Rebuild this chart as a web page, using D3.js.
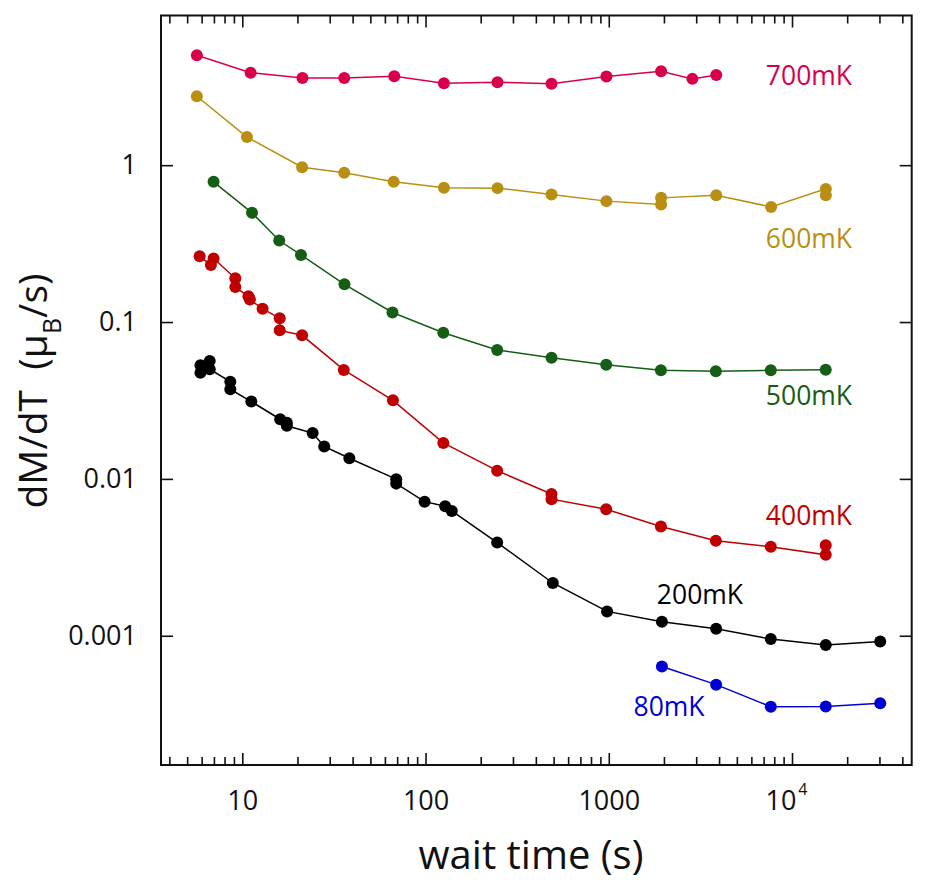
<!DOCTYPE html>
<html><head><meta charset="utf-8">
<script src="https://cdn.jsdelivr.net/npm/d3@7"></script>
<style>
body{margin:0;background:#fff}
svg text{font-family:"Open Sans",sans-serif}
</style>
</head><body>
<svg id="chart" width="939" height="887"></svg>
<script>
// ---- data (wait time in s, dM/dT in mu_B/s) ----
const x700 = [5.65, 11.1, 21.3, 36, 67.5, 126, 247, 487, 971, 1930, 2860, 3860];
const y700 = [5.02, 3.89, 3.60, 3.60, 3.69, 3.33, 3.38, 3.30, 3.67, 3.97, 3.55, 3.76];

const x600 = [5.65, 10.6, 21.2, 36, 67, 126, 247, 487, 971, 1930, 1930, 3860, 7690, 15300, 15300];
const y600 = [2.75, 1.51, 0.971, 0.896, 0.783, 0.717, 0.714, 0.651, 0.590, 0.562, 0.619, 0.644, 0.542, 0.706, 0.644];

const x500 = [6.97, 11.3, 15.9, 20.9, 36.1, 66, 125, 246, 487, 968, 1925, 3840, 7660, 15280];
const y500 = [0.783, 0.497, 0.331, 0.268, 0.174, 0.115, 0.0855, 0.0663, 0.0592, 0.0535, 0.0492, 0.0485, 0.0492, 0.0497];

const x400 = [5.85, 6.74, 6.97, 9.16, 9.16, 10.8, 11.0, 12.9, 16.0, 16.0, 21.2, 35.8, 66.4, 125, 246, 487, 487, 968, 1925, 3840, 7660, 15280, 15280];
const y400 = [0.263, 0.231, 0.254, 0.190, 0.167, 0.146, 0.139, 0.1216, 0.1056, 0.0885, 0.0823, 0.0495, 0.0317, 0.01696, 0.01129, 0.0080, 0.00743, 0.00641, 0.00497, 0.00403, 0.00369, 0.00328, 0.00378];

const x200 = [5.91, 5.91, 6.64, 6.64, 8.60, 8.60, 11.2, 16.1, 17.5, 17.5, 24.2, 28.0, 38.4, 69.2, 69.2, 98.8, 128, 139, 246, 495, 979, 1950, 3855, 7660, 15280, 30300];
const y200 = [0.0530, 0.0475, 0.0565, 0.0500, 0.0417, 0.0373, 0.0311, 0.0240, 0.0228, 0.0218, 0.0196, 0.0161, 0.01355, 0.00996, 0.00933, 0.00716, 0.00670, 0.00625, 0.00393, 0.00217, 0.00143, 0.00123, 0.00111, 0.000952, 0.000873, 0.000920];

const x80 = [1950, 3855, 7660, 15280, 30300];
const y80 = [0.000637, 0.000488, 0.000353, 0.000354, 0.000371];

const seriesNames = ["700mK", "600mK", "500mK", "400mK", "200mK", "80mK"];
const seriesColors = ["#d8004e", "#b88f12", "#165d16", "#c00000", "#000000", "#0000d2"];
// label anchor positions in data coordinates (x, y)
const labelX = [7200, 7200, 7200, 7200, 1830, 1365];
const labelY = [3.23, 0.296, 0.0296, 0.00507, 0.00159, 0.000306];

const xMajor = [10, 100, 1000, 10000];
const xMajorLabels = ["10", "100", "1000", "10^4"];
const yMajor = [0.001, 0.01, 0.1, 1];
const yMajorLabels = ["0.001", "0.01", "0.1", "1"];

// ---- drawing ----
const svg = d3.select("#chart");
svg.append("rect").attr("width", 939).attr("height", 887).attr("fill", "#fff");

const L = 161, R = 911.7, T = 15.5, B = 765;
const x = d3.scaleLog().domain([3.6, 45000]).range([L, R]);
const y = d3.scaleLog().domain([1.5e-4, 9]).range([B, T]);

const xMinor = [];
for (let d = 1; d <= 10000; d *= 10)
  for (let k = 2; k <= 9; k++) { const v = k * d; if (v > 3.6 && v < 45000) xMinor.push(v); }

function styleAxis(g) {
  g.select(".domain").remove();
  g.selectAll(".tick line").attr("stroke", "#111").attr("stroke-width", 1.6);
  g.selectAll(".tick text").attr("fill", "#111").style("font-size", "27px");
}

// bottom axis
const gb = svg.append("g").attr("transform", `translate(0,${B})`)
  .call(d3.axisBottom(x).tickValues(xMajor).tickSize(-12).tickPadding(26)
    .tickFormat((d, i) => xMajorLabels[i].split("^")[0]));
styleAxis(gb);
gb.selectAll(".tick text").each(function(d, i) {
  const parts = xMajorLabels[i].split("^");
  if (parts.length > 1) {
    const t = d3.select(this);
    t.attr("dx", "-6");
    t.append("tspan").attr("dx", 2).attr("dy", "-15").style("font-size", "16px").text(parts[1]);
  }
});
const gbm = svg.append("g").attr("transform", `translate(0,${B})`)
  .call(d3.axisBottom(x).tickValues(xMinor).tickSize(-8).tickFormat(""));
styleAxis(gbm);

// top axis
const gt = svg.append("g").attr("transform", `translate(0,${T})`)
  .call(d3.axisTop(x).tickValues(xMajor).tickSize(-12).tickFormat(""));
styleAxis(gt);
const gtm = svg.append("g").attr("transform", `translate(0,${T})`)
  .call(d3.axisTop(x).tickValues(xMinor).tickSize(-8).tickFormat(""));
styleAxis(gtm);

// left axis
const gl = svg.append("g").attr("transform", `translate(${L},0)`)
  .call(d3.axisLeft(y).tickValues(yMajor).tickSize(-12).tickPadding(24)
    .tickFormat((d, i) => yMajorLabels[i]));
styleAxis(gl);
// right axis
const gr = svg.append("g").attr("transform", `translate(${R},0)`)
  .call(d3.axisRight(y).tickValues(yMajor).tickSize(-12).tickFormat(""));
styleAxis(gr);

// frame
svg.append("rect").attr("x", L).attr("y", T).attr("width", R - L).attr("height", B - T)
  .attr("fill", "none").attr("stroke", "#111").attr("stroke-width", 2);

// series
const allX = [x700, x600, x500, x400, x200, x80];
const allY = [y700, y600, y500, y400, y200, y80];
const line = d3.line().x(d => x(d[0])).y(d => y(d[1]));

allX.forEach((xs, si) => {
  const pts = xs.map((v, i) => [v, allY[si][i]]);
  const g = svg.append("g");
  g.append("path").datum(pts).attr("d", line).attr("fill", "none")
    .attr("stroke", seriesColors[si]).attr("stroke-width", 1.5);
  g.selectAll("circle").data(pts).join("circle")
    .attr("cx", d => x(d[0])).attr("cy", d => y(d[1])).attr("r", 6)
    .attr("fill", seriesColors[si]);
  svg.append("text").attr("x", x(labelX[si])).attr("y", y(labelY[si]))
    .attr("fill", seriesColors[si]).style("font-size", "26.5px").text(seriesNames[si]);
});

// axis titles
svg.append("text").attr("x", 531).attr("y", 869).attr("text-anchor", "middle")
  .attr("fill", "#111").style("font-size", "40px").text("wait time (s)");

const yt = svg.append("text").attr("transform", "translate(47,391) rotate(-90)")
  .attr("text-anchor", "middle").attr("fill", "#111").style("font-size", "39px");
yt.append("tspan").text("dM/dT\u00a0\u00a0(\u03bc");
yt.append("tspan").attr("dy", 14).style("font-size", "25px").text("B");
yt.append("tspan").attr("dy", -14).text("/s)");
</script>
</body></html>
